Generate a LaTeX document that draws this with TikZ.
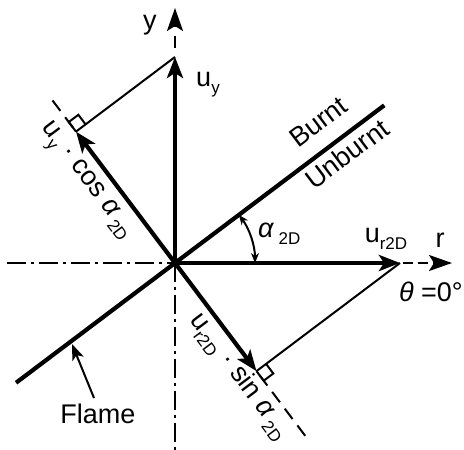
\documentclass[tikz,border=0pt]{standalone}
\usepackage{fontspec}
\setmainfont{Liberation Sans}
\usetikzlibrary{arrows.meta,calc}
\newcommand\lowsub[1]{\raisebox{-7pt}{\fontsize{17}{18}\selectfont #1}}
\begin{document}
\begin{tikzpicture}[x=1pt,y=1pt,
  thickvec/.style={line width=4.2pt,-{Stealth[length=21pt,width=16pt,inset=5pt]}},
  thinline/.style={line width=2pt},
  axisdd/.style={line width=2pt,dash pattern=on 19pt off 5pt on 3pt off 5pt},
  extdash/.style={line width=2pt,dash pattern=on 13pt off 8pt,dash phase=16pt},
  lbl/.style={font=\fontsize{27}{29}\selectfont, inner sep=0pt},
]
\useasboundingbox (-175,-187) rectangle (289,263);
\coordinate (O) at (0,0);
\coordinate (uy) at (0,206);
\coordinate (ur) at (225,0);
\coordinate (C) at (127:164.5);
\coordinate (S) at (-53:135.4);
\coordinate (ytop) at (0,255);
\coordinate (rtip) at (277,0);
\coordinate (xl) at (-168,0);
\coordinate (yb) at (0,-187);
\coordinate (fl1) at (217:199);
\coordinate (fl2) at (37:262);
\coordinate (Cext) at ($(C)+(127:39)$);
\coordinate (Sext) at ($(S)+(-53:85)$);
\coordinate (fstart) at (-81,-135);
\coordinate (ftip) at (-103,-81);

% axes
\draw[axisdd] (xl) -- (O);
\draw[axisdd] (O) -- (yb);
\draw[line width=2pt,dash pattern=on 12pt off 9pt,dash phase=12pt,
      -{Stealth[length=23pt,width=16pt,inset=5pt]}] (uy) -- (ytop);
\draw[line width=2pt,dash pattern=on 10pt off 5pt,dash phase=12pt,
      -{Stealth[length=23pt,width=16pt,inset=5pt]}] (ur) -- (rtip);

% projections
\draw[thinline] (uy) -- (C);
\draw[thinline] (ur) -- (S);
\draw[extdash] (C) -- (Cext);
\draw[extdash] (S) -- (Sext);
\draw[thinline] (C) -- ++(127:12) -- ++(37:12) -- ++(-53:12);
\draw[thinline] (S) -- ++(-53:12) -- ++(37:12) -- ++(127:12);

% angle
\draw[thinline,{Stealth[length=10pt,width=8pt]}-{Stealth[length=10pt,width=8pt]}]
  (80,0) arc[start angle=0,end angle=37,radius=80];

% flame
\draw[line width=4.2pt] (fl1) -- (fl2);

% vectors
\draw[thickvec] (O) -- (uy);
\draw[thickvec] (O) -- (ur);
\draw[thickvec] (O) -- (C);
\draw[thickvec] (O) -- (S);

% labels
\node[lbl] (ylab) at (-25,238) {y};
\node[lbl] (uylab) at (33,178) {u\lowsub{y}};
\node[lbl] (rlab) at (265,23) {r};
\node[lbl] (urlab) at (211,24) {u\lowsub{r2D}};
\node[lbl,anchor=east] (theta) at (288,-29) {{\itshape θ} =0°};
\node[lbl,anchor=base west] (alab) at (83,25) {{\itshape α}\hspace{5pt}\lowsub{2D}};
\node[lbl,rotate=37] (burnt) at (143.7,140.9) {Burnt};
\node[lbl,rotate=37] (unburnt) at (171.9,109.2) {Unburnt};
\node[lbl] (flame) at (-77,-151) {Flame};
\node[lbl,rotate=-53,anchor=base] (coslab) at (-91.6,79.9)
  {u\lowsub{y} · cos {\itshape α}\hspace{4pt}\lowsub{2D}};
\node[lbl,rotate=-53,anchor=base] (sinlab) at (59.2,-116.9)
  {u\lowsub{r2D} · sin {\itshape α}\hspace{4pt}\lowsub{2D}};
\draw[thinline,-{Stealth[length=16pt,width=12pt,inset=4pt]}] (fstart) -- (ftip);
\end{tikzpicture}
\end{document}
